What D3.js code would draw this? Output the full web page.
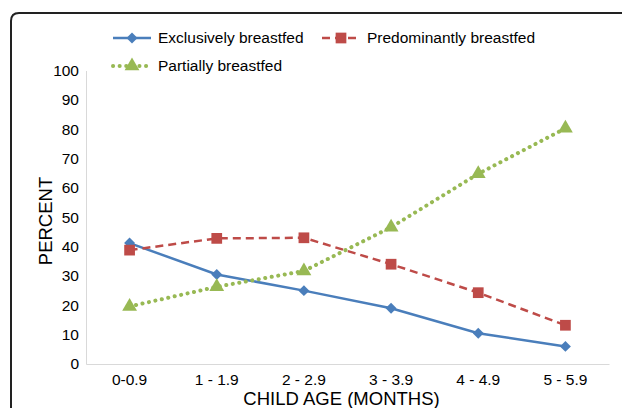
<!DOCTYPE html>
<html>
<head>
<meta charset="utf-8">
<script src="https://cdn.jsdelivr.net/npm/d3@7"></script>
<style>
  body { margin: 0; background: #fff; }
  svg { display: block; font-family: "Liberation Sans", Arial, sans-serif; }
</style>
</head>
<body>
<div id="chart"></div>
<script>
// Chart data
const ageGroups = ['0-0.9', '1 - 1.9', '2 - 2.9', '3 - 3.9', '4 - 4.9', '5 - 5.9'];
const exclusive = [41.2, 30.5, 25.0, 19.0, 10.5, 6.0];
const predominant = [38.8, 42.8, 43.0, 34.0, 24.3, 13.2];
const partial = [19.6, 26.3, 31.7, 46.6, 64.8, 80.3];
const yTicks = [0, 10, 20, 30, 40, 50, 60, 70, 80, 90, 100];

const series = [
  { label: 'Exclusively breastfed', values: exclusive, color: '#4a7ebb', dash: null, symbol: d3.symbolSquare, size: 60, rotate: 45 },
  { label: 'Predominantly breastfed', values: predominant, color: '#be4b48', dash: '8,5', symbol: d3.symbolSquare, size: 115, rotate: 0 },
  { label: 'Partially breastfed', values: partial, color: '#98b954', dash: '0.1,6.5', symbol: d3.symbolTriangle, size: 95, rotate: 0 }
];

const width = 622, height = 408;
const margin = { top: 70.5, right: 13, bottom: 44, left: 86 };
const innerW = width - margin.left - margin.right;
const innerH = height - margin.top - margin.bottom;

const svg = d3.select('#chart').append('svg')
  .attr('width', width)
  .attr('height', height);

// outer frame (only top-left corner visible)
svg.append('path')
  .attr('d', `M11,${height + 5} L11,21 Q11,13 19,13 L${width + 5},13`)
  .attr('fill', 'none')
  .attr('stroke', '#222')
  .attr('stroke-width', 2);

const g = svg.append('g')
  .attr('transform', `translate(${margin.left}, ${margin.top})`);

const x = d3.scaleBand()
  .domain(ageGroups)
  .range([0, innerW]);

const y = d3.scaleLinear()
  .domain([0, 100])
  .range([innerH, 0]);

const cx = d => x(d) + x.bandwidth() / 2;

// axes
const yAxis = g.append('g')
  .call(d3.axisLeft(y).tickValues(yTicks).tickSize(0).tickPadding(7));
yAxis.select('.domain').attr('stroke', '#d9d9d9');
yAxis.selectAll('text').style('font-size', '15.5px').attr('fill', '#000');

const xAxis = g.append('g')
  .attr('transform', `translate(0, ${innerH})`)
  .call(d3.axisBottom(x).tickSize(0).tickPadding(10));
xAxis.select('.domain').attr('stroke', '#d9d9d9');
xAxis.selectAll('text').style('font-size', '15.5px').attr('fill', '#000');

// axis titles
svg.append('text')
  .attr('x', margin.left + innerW / 2 - 6)
  .attr('y', 405)
  .attr('text-anchor', 'middle')
  .style('font-size', '18.5px')
  .text('CHILD AGE (MONTHS)');

svg.append('text')
  .attr('transform', 'translate(52, 221) rotate(-90)')
  .attr('text-anchor', 'middle')
  .style('font-size', '18.5px')
  .text('PERCENT');

// lines and markers
const line = d3.line()
  .x((d, i) => cx(ageGroups[i]))
  .y(d => y(d));

series.forEach(s => {
  g.append('path')
    .datum(s.values)
    .attr('fill', 'none')
    .attr('stroke', s.color)
    .attr('stroke-width', s.dash === '0.1,6.5' ? 4 : 2.5)
    .attr('stroke-linecap', s.dash === '0.1,6.5' ? 'round' : 'butt')
    .attr('stroke-dasharray', s.dash)
    .attr('d', line);

  g.selectAll(null)
    .data(s.values)
    .enter().append('path')
    .attr('transform', (d, i) => `translate(${cx(ageGroups[i])}, ${y(d)}) rotate(${s.rotate})`)
    .attr('d', d3.symbol().type(s.symbol).size(s.size))
    .attr('fill', s.color);
});

// legend
const legendItems = [
  { s: series[0], x: 113, y: 38 },
  { s: series[1], x: 322, y: 38 },
  { s: series[2], x: 113, y: 66 }
];

legendItems.forEach(item => {
  const s = item.s;
  const lg = svg.append('g').attr('transform', `translate(${item.x}, ${item.y})`);
  lg.append('line')
    .attr('x1', 0).attr('x2', 38)
    .attr('stroke', s.color)
    .attr('stroke-width', s.dash === '0.1,6.5' ? 4 : 2.5)
    .attr('stroke-linecap', s.dash === '0.1,6.5' ? 'round' : 'butt')
    .attr('stroke-dasharray', s.dash);
  lg.append('path')
    .attr('transform', `translate(19, 0) rotate(${s.rotate})`)
    .attr('d', d3.symbol().type(s.symbol).size(s.size))
    .attr('fill', s.color);
  lg.append('text')
    .attr('x', 45)
    .attr('y', 0)
    .attr('dy', '0.35em')
    .style('font-size', '15.5px')
    .text(s.label);
});
</script>
</body>
</html>
